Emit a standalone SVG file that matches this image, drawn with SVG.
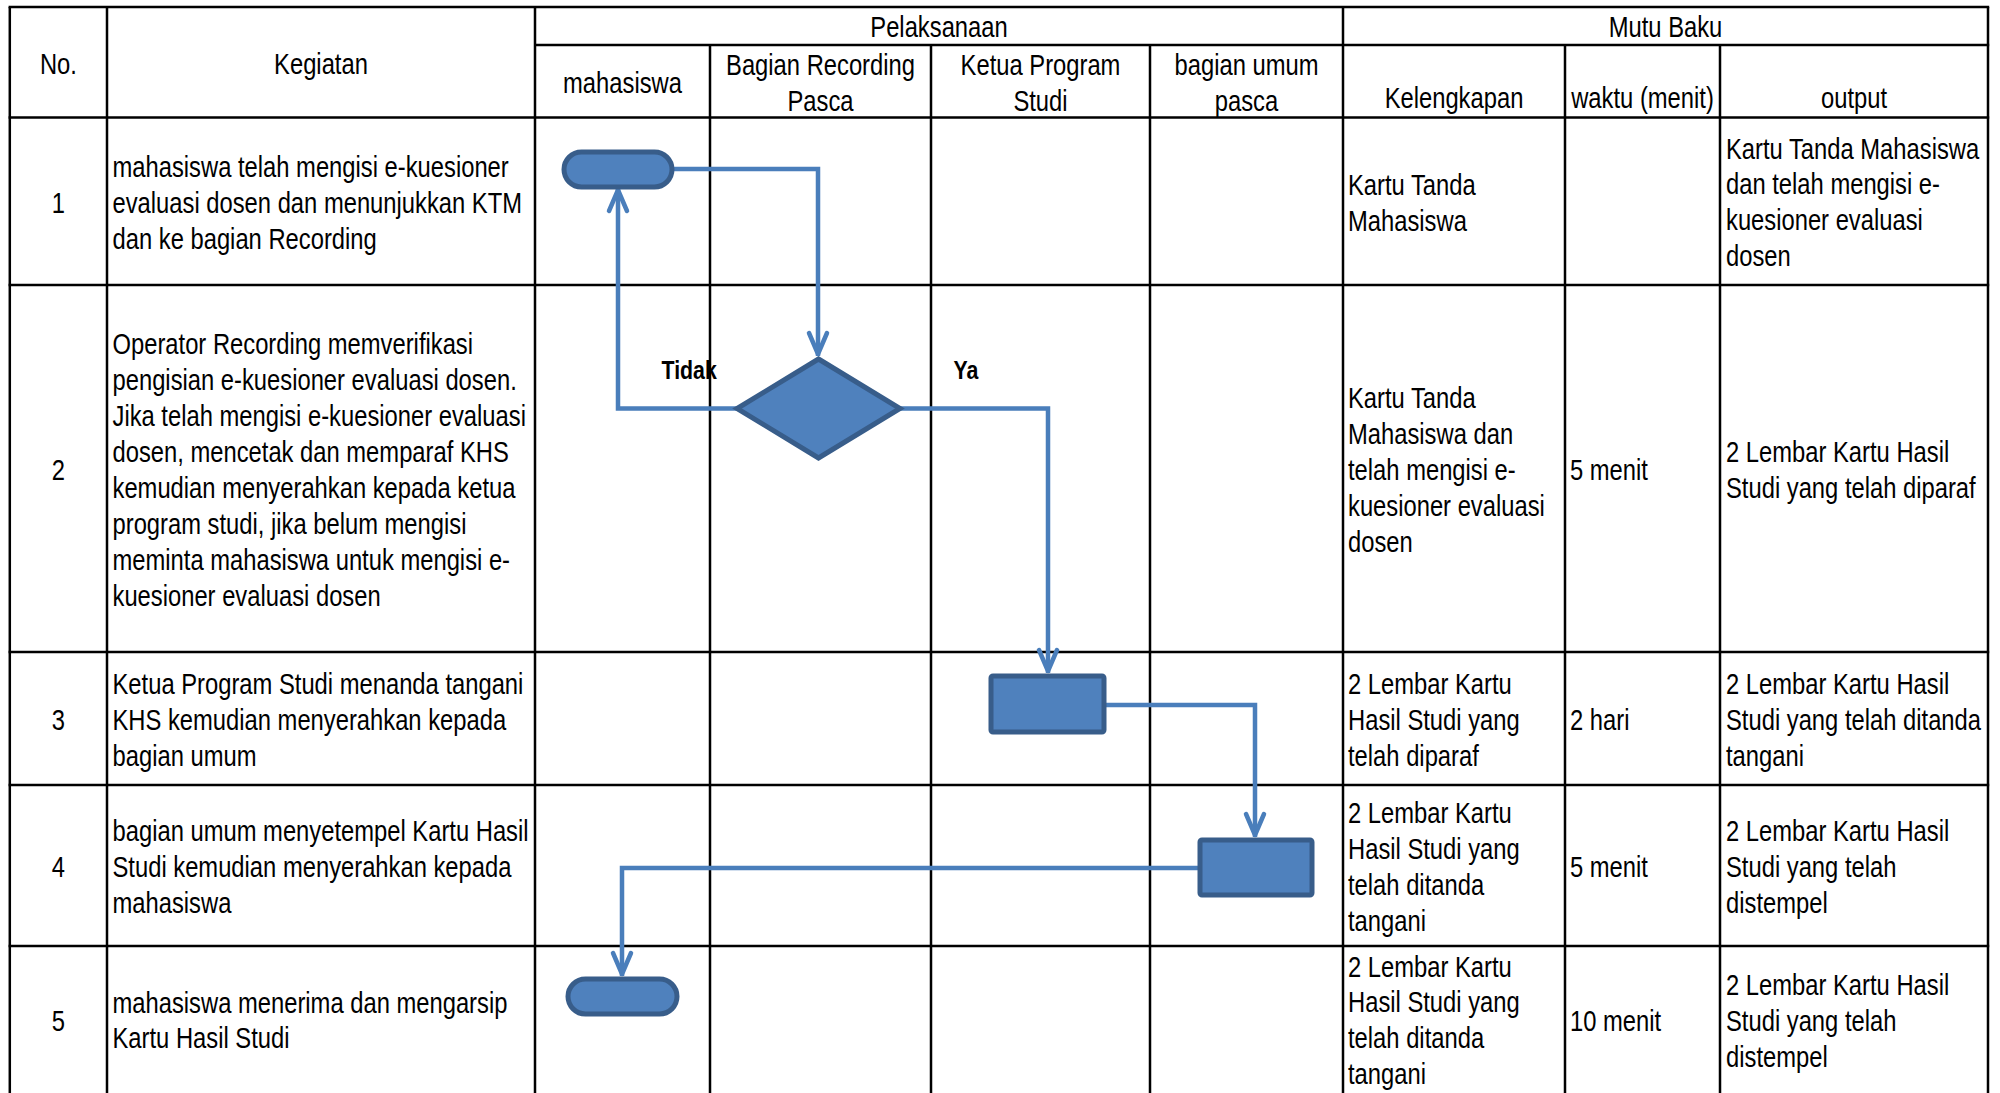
<svg xmlns="http://www.w3.org/2000/svg" width="2000" height="1093" viewBox="0 0 2000 1093">
<style>
.t{font-family:"Liberation Sans",Arial,sans-serif;font-size:29px;fill:#000}
.c{text-anchor:middle}
.lbl{font-family:"Liberation Sans",Arial,sans-serif;font-size:26px;font-weight:bold;fill:#000}
.grid line{stroke:#000;stroke-width:2.5}
.shape{fill:#4F81BD;stroke:#385D8A;stroke-width:5}
.conn{fill:none;stroke:#4A7EBB;stroke-width:4.5}
</style>
<defs>
<marker id="arr" markerUnits="userSpaceOnUse" markerWidth="32" markerHeight="26" viewBox="-28 -13 32 26" refX="2" refY="0" orient="auto">
<path d="M-21,-9 L0,0 L-21,9" fill="none" stroke="#4A7EBB" stroke-width="4.5" stroke-linejoin="round" stroke-linecap="round"/>
</marker>
</defs>
<rect x="0" y="0" width="2000" height="1093" fill="#fff"/>
<g id="table-grid" class="grid">
<line x1="9.8" y1="7" x2="9.8" y2="1093"/>
<line x1="107" y1="7" x2="107" y2="1093"/>
<line x1="535" y1="7" x2="535" y2="1093"/>
<line x1="710" y1="45" x2="710" y2="1093"/>
<line x1="931" y1="45" x2="931" y2="1093"/>
<line x1="1150" y1="45" x2="1150" y2="1093"/>
<line x1="1343" y1="7" x2="1343" y2="1093"/>
<line x1="1565" y1="45" x2="1565" y2="1093"/>
<line x1="1720" y1="45" x2="1720" y2="1093"/>
<line x1="1988" y1="7" x2="1988" y2="1093"/>
<line x1="8.6" y1="7" x2="1989.2" y2="7"/>
<line x1="535" y1="45" x2="1989.2" y2="45"/>
<line x1="8.6" y1="117.5" x2="1989.2" y2="117.5"/>
<line x1="8.6" y1="285" x2="1989.2" y2="285"/>
<line x1="8.6" y1="652" x2="1989.2" y2="652"/>
<line x1="8.6" y1="785" x2="1989.2" y2="785"/>
<line x1="8.6" y1="946" x2="1989.2" y2="946"/>
</g>
<g id="header-text">
<text class="t c" transform="translate(58.4,74) scale(0.82 1)">No.</text>
<text class="t c" transform="translate(321,74) scale(0.82 1)">Kegiatan</text>
<text class="t c" transform="translate(939,37) scale(0.82 1)">Pelaksanaan</text>
<text class="t c" transform="translate(622.5,93) scale(0.82 1)">mahasiswa</text>
<text class="t c" transform="translate(820.5,75) scale(0.82 1)"><tspan x="0" y="0">Bagian Recording</tspan><tspan x="0" y="36">Pasca</tspan></text>
<text class="t c" transform="translate(1040.5,75) scale(0.82 1)"><tspan x="0" y="0">Ketua Program</tspan><tspan x="0" y="36">Studi</tspan></text>
<text class="t c" transform="translate(1246.5,75) scale(0.82 1)"><tspan x="0" y="0">bagian umum</tspan><tspan x="0" y="36">pasca</tspan></text>
<text class="t c" transform="translate(1665.5,37) scale(0.82 1)">Mutu Baku</text>
<text class="t c" transform="translate(1454,108) scale(0.82 1)">Kelengkapan</text>
<text class="t c" transform="translate(1642.5,108) scale(0.82 1)">waktu (menit)</text>
<text class="t c" transform="translate(1854,108) scale(0.82 1)">output</text>
</g>
<g id="row-numbers">
<text class="t c" transform="translate(58.4,213) scale(0.82 1)">1</text>
<text class="t c" transform="translate(58.4,480) scale(0.82 1)">2</text>
<text class="t c" transform="translate(58.4,730) scale(0.82 1)">3</text>
<text class="t c" transform="translate(58.4,877) scale(0.82 1)">4</text>
<text class="t c" transform="translate(58.4,1031) scale(0.82 1)">5</text>
</g>
<g id="kegiatan-text">
<text class="t" transform="translate(112.5,177) scale(0.82 1)"><tspan x="0" y="0">mahasiswa telah mengisi e-kuesioner</tspan><tspan x="0" y="36">evaluasi dosen dan menunjukkan KTM</tspan><tspan x="0" y="72">dan ke bagian Recording</tspan></text>
<text class="t" transform="translate(112.5,354) scale(0.82 1)"><tspan x="0" y="0">Operator Recording memverifikasi</tspan><tspan x="0" y="36">pengisian e-kuesioner evaluasi dosen.</tspan><tspan x="0" y="72">Jika telah mengisi e-kuesioner evaluasi</tspan><tspan x="0" y="108">dosen, mencetak dan memparaf KHS</tspan><tspan x="0" y="144">kemudian menyerahkan kepada ketua</tspan><tspan x="0" y="180">program studi, jika belum mengisi</tspan><tspan x="0" y="216">meminta mahasiswa untuk mengisi e-</tspan><tspan x="0" y="252">kuesioner evaluasi dosen</tspan></text>
<text class="t" transform="translate(112.5,694) scale(0.82 1)"><tspan x="0" y="0">Ketua Program Studi menanda tangani</tspan><tspan x="0" y="36">KHS kemudian menyerahkan kepada</tspan><tspan x="0" y="72">bagian umum</tspan></text>
<text class="t" transform="translate(112.5,841) scale(0.82 1)"><tspan x="0" y="0">bagian umum menyetempel Kartu Hasil</tspan><tspan x="0" y="36">Studi kemudian menyerahkan kepada</tspan><tspan x="0" y="72">mahasiswa</tspan></text>
<text class="t" transform="translate(112.5,1012.5) scale(0.82 1)"><tspan x="0" y="0">mahasiswa menerima dan mengarsip</tspan><tspan x="0" y="36">Kartu Hasil Studi</tspan></text>
</g>
<g id="kelengkapan-text">
<text class="t" transform="translate(1348,195) scale(0.82 1)"><tspan x="0" y="0">Kartu Tanda</tspan><tspan x="0" y="36">Mahasiswa</tspan></text>
<text class="t" transform="translate(1348,408) scale(0.82 1)"><tspan x="0" y="0">Kartu Tanda</tspan><tspan x="0" y="36">Mahasiswa dan</tspan><tspan x="0" y="72">telah mengisi e-</tspan><tspan x="0" y="108">kuesioner evaluasi</tspan><tspan x="0" y="144">dosen</tspan></text>
<text class="t" transform="translate(1348,694) scale(0.82 1)"><tspan x="0" y="0">2 Lembar Kartu</tspan><tspan x="0" y="36">Hasil Studi yang</tspan><tspan x="0" y="72">telah diparaf</tspan></text>
<text class="t" transform="translate(1348,823) scale(0.82 1)"><tspan x="0" y="0">2 Lembar Kartu</tspan><tspan x="0" y="36">Hasil Studi yang</tspan><tspan x="0" y="72">telah ditanda</tspan><tspan x="0" y="108">tangani</tspan></text>
<text class="t" transform="translate(1348,976.5) scale(0.82 1)"><tspan x="0" y="0">2 Lembar Kartu</tspan><tspan x="0" y="36">Hasil Studi yang</tspan><tspan x="0" y="72">telah ditanda</tspan><tspan x="0" y="108">tangani</tspan></text>
</g>
<g id="waktu-text">
<text class="t" transform="translate(1570,480) scale(0.82 1)">5 menit</text>
<text class="t" transform="translate(1570,730) scale(0.82 1)">2 hari</text>
<text class="t" transform="translate(1570,877) scale(0.82 1)">5 menit</text>
<text class="t" transform="translate(1570,1031) scale(0.82 1)">10 menit</text>
</g>
<g id="output-text">
<text class="t" transform="translate(1726,158.5) scale(0.82 1)"><tspan x="0" y="0">Kartu Tanda Mahasiswa</tspan><tspan x="0" y="36">dan telah mengisi e-</tspan><tspan x="0" y="72">kuesioner evaluasi</tspan><tspan x="0" y="108">dosen</tspan></text>
<text class="t" transform="translate(1726,462) scale(0.82 1)"><tspan x="0" y="0">2 Lembar Kartu Hasil</tspan><tspan x="0" y="36">Studi yang telah diparaf</tspan></text>
<text class="t" transform="translate(1726,694) scale(0.82 1)"><tspan x="0" y="0">2 Lembar Kartu Hasil</tspan><tspan x="0" y="36">Studi yang telah ditanda</tspan><tspan x="0" y="72">tangani</tspan></text>
<text class="t" transform="translate(1726,841) scale(0.82 1)"><tspan x="0" y="0">2 Lembar Kartu Hasil</tspan><tspan x="0" y="36">Studi yang telah</tspan><tspan x="0" y="72">distempel</tspan></text>
<text class="t" transform="translate(1726,995) scale(0.82 1)"><tspan x="0" y="0">2 Lembar Kartu Hasil</tspan><tspan x="0" y="36">Studi yang telah</tspan><tspan x="0" y="72">distempel</tspan></text>
</g>
<g id="connectors">
<path class="conn" d="M672,169 H818 V356" marker-end="url(#arr)"/>
<path class="conn" d="M737,408.5 H618 V188" marker-end="url(#arr)"/>
<path class="conn" d="M900,408.5 H1048 V673" marker-end="url(#arr)"/>
<path class="conn" d="M1104,705 H1255 V837" marker-end="url(#arr)"/>
<path class="conn" d="M1200,868 H622 V976" marker-end="url(#arr)"/>
<text class="lbl" transform="translate(661.5,379) scale(0.82 1)">Tidak</text>
<text class="lbl" transform="translate(953.5,379) scale(0.82 1)">Ya</text>
</g>
<g id="start-mahasiswa">
<rect class="shape" x="564" y="152" width="108" height="35" rx="17.5"/>
</g>
<g id="decision-recording">
<polygon class="shape" points="818.5,359 900,408.5 818.5,458 737,408.5" stroke-linejoin="miter"/>
</g>
<g id="process-ketua">
<rect class="shape" x="991" y="676" width="113" height="56" rx="2"/>
</g>
<g id="process-umum">
<rect class="shape" x="1200" y="840" width="112" height="55" rx="2"/>
</g>
<g id="end-mahasiswa">
<rect class="shape" x="568" y="979" width="109" height="35" rx="17.5"/>
</g>
</svg>
